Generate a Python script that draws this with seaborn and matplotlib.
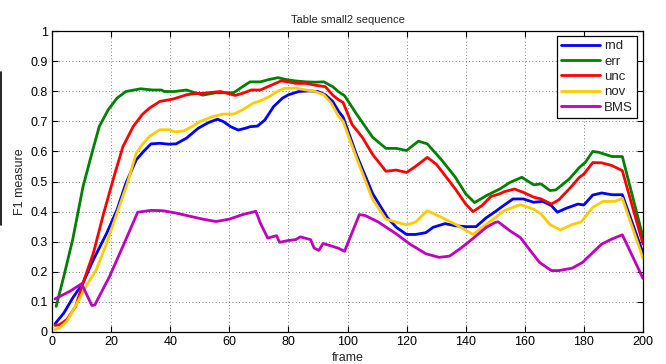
import matplotlib
matplotlib.use("Agg")
import matplotlib.pyplot as plt
from matplotlib.lines import Line2D
import seaborn as sns
import pandas as pd

# ---------------- data ----------------
rnd_x = [1, 4, 7, 10.5, 14, 18.5, 22, 25, 28.5, 31, 33.5, 36.5, 39.5, 42, 45.5, 49.5, 53, 56, 58, 60.5,
         63, 65.5, 67, 69.5, 72, 75, 78, 80, 83.5, 87, 90, 92.5, 95, 97, 98.5, 103, 108.5, 113.5, 116.5, 120,
         123, 126.5, 129, 133, 136.5, 140, 143.5, 147, 150, 152.8, 156, 159.5, 163, 166, 169, 171, 174, 178,
         180, 183, 186, 189.5, 193, 200]
rnd_y = [0.027, 0.063, 0.113, 0.163, 0.24, 0.328, 0.406, 0.494, 0.572, 0.60, 0.625, 0.627, 0.624, 0.625, 0.644,
         0.677, 0.696, 0.707, 0.699, 0.682, 0.671, 0.677, 0.682, 0.684, 0.704, 0.749, 0.777, 0.788, 0.799, 0.801,
         0.799, 0.788, 0.766, 0.733, 0.714, 0.59, 0.46, 0.38, 0.348, 0.324, 0.324, 0.33, 0.348, 0.36, 0.353, 0.35,
         0.35, 0.38, 0.40, 0.42, 0.442, 0.442, 0.431, 0.434, 0.42, 0.398, 0.411, 0.425, 0.422, 0.455, 0.462,
         0.456, 0.456, 0.262]

err_x = [1.4, 4, 7, 10.5, 13.5, 16, 19, 22, 25, 30, 34, 37, 38, 41.5, 45.5, 49, 51, 55.5, 61.5, 64.5, 67,
         70.5, 73.5, 76.5, 79, 82.5, 86, 89, 92, 95, 97, 99, 103, 108.5, 113, 116.5, 120, 124, 127, 132, 136.5,
         140, 143, 147, 151.5, 155, 159, 163, 165.5, 168.5, 170.5, 175, 178.5, 180.5, 183, 185, 189.5, 193, 200]
err_y = [0.085, 0.185, 0.307, 0.483, 0.594, 0.683, 0.738, 0.777, 0.799, 0.808, 0.804, 0.804, 0.799, 0.799,
         0.804, 0.793, 0.787, 0.795, 0.795, 0.815, 0.831, 0.831, 0.839, 0.845, 0.839, 0.834, 0.831, 0.83,
         0.831, 0.815, 0.798, 0.785, 0.725, 0.647, 0.61, 0.61, 0.603, 0.634, 0.625, 0.57, 0.514, 0.459, 0.43,
         0.453, 0.475, 0.497, 0.514, 0.489, 0.492, 0.47, 0.472, 0.508, 0.547, 0.564, 0.60, 0.597, 0.583,
         0.583, 0.315]

unc_x = [1, 2.5, 5, 8, 10.5, 14, 17.5, 21, 24, 27.5, 30.5, 33, 36.5, 41, 45.5, 49, 51, 57, 62, 64.5, 67.5,
         70.5, 73.5, 77.5, 80, 82.5, 86, 89, 92.5, 95, 97, 98.5, 101.5, 105, 108.5, 113, 116.5, 120, 123, 127,
         130, 133, 136.5, 140, 142.5, 145.5, 148.5, 151.5, 153, 156.5, 159.5, 163, 165.5, 169, 171.5, 175,
         178.5, 180, 183, 186, 189.5, 193, 200]
unc_y = [0.022, 0.024, 0.041, 0.085, 0.163, 0.262, 0.395, 0.517, 0.616, 0.683, 0.722, 0.744, 0.766, 0.774,
         0.788, 0.793, 0.793, 0.799, 0.786, 0.793, 0.804, 0.804, 0.817, 0.834, 0.831, 0.826, 0.826, 0.82,
         0.815, 0.787, 0.771, 0.763, 0.69, 0.647, 0.59, 0.534, 0.538, 0.53, 0.55, 0.58, 0.558, 0.52, 0.475,
         0.425, 0.40, 0.42, 0.45, 0.459, 0.466, 0.475, 0.464, 0.448, 0.442, 0.425, 0.439, 0.475, 0.514, 0.525,
         0.563, 0.562, 0.553, 0.536, 0.292]

nov_x = [1, 2.5, 5, 8.5, 11.5, 15, 18.5, 22, 25.5, 28.5, 30.5, 33, 36.5, 39.5, 41.5, 44.5, 47.5, 50, 54.5,
         58, 61.5, 64.5, 68, 70.5, 73.5, 76.5, 79, 82.5, 86, 89, 92, 94.5, 97, 98.5, 103, 108.5, 113, 116.5,
         120, 123, 127, 132, 136.5, 142.5, 147, 150, 153, 156, 158.5, 163, 165.5, 168.5, 172, 176, 179, 183,
         186.5, 190.5, 193, 200]
nov_y = [0.008, 0.013, 0.035, 0.096, 0.152, 0.207, 0.295, 0.395, 0.494, 0.594, 0.622, 0.65, 0.672, 0.672,
         0.665, 0.668, 0.683, 0.699, 0.716, 0.724, 0.724, 0.738, 0.76, 0.768, 0.782, 0.801, 0.81, 0.81, 0.804,
         0.799, 0.788, 0.76, 0.716, 0.70, 0.58, 0.44, 0.375, 0.365, 0.356, 0.365, 0.403, 0.38, 0.358, 0.324,
         0.358, 0.38, 0.403, 0.414, 0.423, 0.408, 0.392, 0.357, 0.339, 0.357, 0.365, 0.414, 0.434, 0.434,
         0.444, 0.245]

bms_x = [1, 6, 10, 13.5, 14.5, 19.5, 24.5, 29, 33.5, 37.5, 42, 46.5, 51, 55.5, 60, 64.5, 69, 70.5, 73, 76,
         77, 80, 82.5, 84, 87.5, 88.7, 90.3, 91.7, 94.8, 97, 99, 104, 106, 110.5, 116.5, 121, 126.5, 131, 134.5,
         138, 141.5, 147, 150, 151, 155, 158.5, 161.5, 165, 169, 171.5, 176, 179.5, 183, 186, 189.5, 193, 200]
bms_y = [0.11, 0.135, 0.16, 0.088, 0.09, 0.185, 0.296, 0.398, 0.404, 0.403, 0.395, 0.385, 0.375, 0.367,
         0.375, 0.39, 0.401, 0.362, 0.312, 0.32, 0.298, 0.304, 0.307, 0.316, 0.307, 0.279, 0.271, 0.294, 0.285,
         0.278, 0.268, 0.39, 0.387, 0.365, 0.326, 0.293, 0.26, 0.248, 0.252, 0.276, 0.303, 0.348, 0.364, 0.366,
         0.336, 0.314, 0.275, 0.231, 0.204, 0.204, 0.212, 0.231, 0.264, 0.292, 0.309, 0.323, 0.178]

methods = ["rnd", "err", "unc", "nov", "BMS"]
colors = ["#0000ff", "#008000", "#ff0000", "#ffcc00", "#bf00bf"]
x_ticks = list(range(0, 201, 20))
y_ticks = [0, 0.1, 0.2, 0.3, 0.4, 0.5, 0.6, 0.7, 0.8, 0.9, 1]
y_tick_labels = ["0", "0.1", "0.2", "0.3", "0.4", "0.5", "0.6", "0.7", "0.8", "0.9", "1"]

series = {"rnd": (rnd_x, rnd_y), "err": (err_x, err_y), "unc": (unc_x, unc_y),
          "nov": (nov_x, nov_y), "BMS": (bms_x, bms_y)}
rows = []
for m in methods:
    xs, ys = series[m]
    for a, b in zip(xs, ys):
        rows.append({"frame": a, "F1": b, "method": m})
df = pd.DataFrame(rows)

# ---------------- style ----------------
sns.set_style("ticks")
plt.rcParams["font.family"] = ["Liberation Sans", "DejaVu Sans"]
plt.rcParams["xtick.direction"] = "in"
plt.rcParams["ytick.direction"] = "in"

fig = plt.figure(figsize=(6.66, 3.64), dpi=100)
ax = fig.add_axes([52 / 666, 1 - 332 / 364, 591 / 666, 301 / 364])

sns.lineplot(data=df, x="frame", y="F1", hue="method", hue_order=methods,
             palette=dict(zip(methods, colors)), estimator=None, sort=True,
             linewidth=2.0, ax=ax)

ax.set_xlim(0, 200)
ax.set_ylim(0, 1)
ax.set_xticks(x_ticks)
ax.set_yticks(y_ticks)
ax.set_yticklabels(y_tick_labels)
ax.tick_params(axis="both", which="both", direction="in", top=True, right=True,
               length=4, width=0.8, labelsize=9, colors="black", pad=3)
ax.grid(True, linestyle=(0, (1, 3)), color="0.35", linewidth=0.6)
for s in ax.spines.values():
    s.set_color("black")
    s.set_linewidth(0.9)

ax.set_title("Table small2 sequence", fontsize=8, pad=6)
ax.set_xlabel("frame", fontsize=9, labelpad=3)
ax.set_ylabel("F1 measure", fontsize=9, labelpad=3)

leg = ax.legend(loc="upper right", bbox_to_anchor=(0.9898, 0.9834), borderaxespad=0,
                fontsize=9.5, frameon=True, fancybox=False, edgecolor="black",
                handlelength=2.9, handletextpad=0.35, labelspacing=0.24,
                borderpad=0.3, framealpha=1)
leg.get_frame().set_linewidth(0.9)
for h in leg.get_lines():
    h.set_linewidth(2.0)

# thin black vertical line at the left edge of the figure
fig.add_artist(Line2D([0.0015, 0.0015], [1 - 72 / 364, 1 - 225 / 364],
                      transform=fig.transFigure, color="black", linewidth=1.2))

fig.savefig("out.png", dpi=100)
